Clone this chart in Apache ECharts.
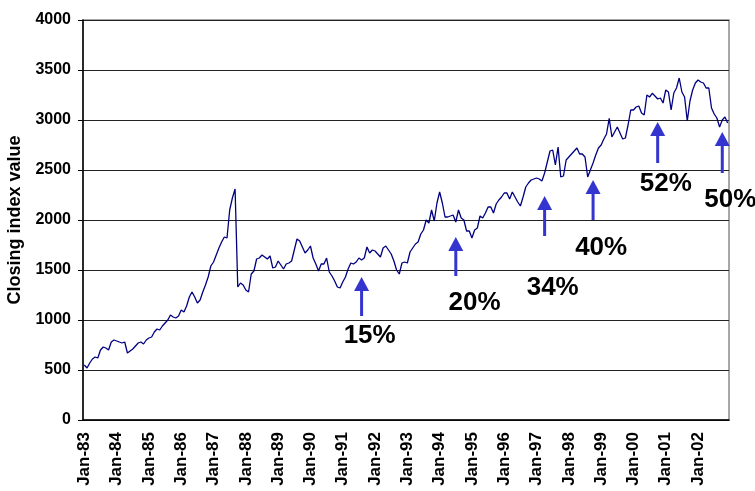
<!DOCTYPE html>
<html>
<head>
<meta charset="utf-8">
<script src="https://cdn.jsdelivr.net/npm/echarts@6/dist/echarts.min.js"></script>
<style>
  html, body { margin: 0; padding: 0; background: #fff; }
  #container { width: 755px; height: 491px; }
</style>
</head>
<body>
<div id="container"></div>
<script>
// monthly closing values, Jan-83 .. Dec-02
var close83to87 = [
  550, 520, 570, 610, 630, 620, 700, 730, 720, 700, 780, 800,
  790, 780, 770, 780, 670, 690, 710, 740, 770, 780, 760, 800,
  820, 830, 880, 910, 900, 940, 970, 1000, 1050, 1030, 1020, 1040,
  1100, 1080, 1140, 1230, 1280, 1230, 1170, 1200, 1280, 1350, 1430, 1540,
  1580, 1650, 1720, 1780, 1830, 1820, 2100, 2220, 2310, 1330, 1370, 1350
];
var close88to92 = [
  1300, 1280, 1460, 1490, 1610, 1620, 1650, 1630, 1610, 1640, 1520, 1530,
  1590, 1550, 1510, 1560, 1570, 1590, 1700, 1810, 1790, 1730, 1670, 1700,
  1740, 1620, 1560, 1490, 1560, 1560, 1620, 1480, 1440, 1390, 1330, 1320,
  1380, 1430, 1510, 1570, 1560, 1580, 1620, 1600, 1620, 1730, 1670, 1700,
  1690, 1660, 1630, 1720, 1740, 1700, 1660, 1590, 1500, 1460, 1570, 1580
];
var close93to97 = [
  1570, 1680, 1720, 1760, 1780, 1860, 1900, 2000, 1970, 2100, 1990, 2170,
  2280, 2170, 2030, 2030, 2040, 2050, 1980, 2100, 2020, 2000, 1890, 1890,
  1820, 1900, 1920, 2040, 2020, 2070, 2130, 2130, 2070, 2160, 2200, 2230,
  2270, 2270, 2210, 2280, 2230, 2180, 2140, 2230, 2330, 2370, 2400, 2410,
  2420, 2410, 2390, 2470, 2580, 2690, 2700, 2550, 2730, 2430, 2440, 2600
];
var close98to02 = [
  2630, 2660, 2690, 2720, 2660, 2660, 2630, 2430, 2500, 2570, 2650, 2720,
  2750, 2810, 2860, 3017, 2830, 2880, 2930, 2870, 2810, 2820, 2950, 3100,
  3100, 3130, 3140, 3070, 3050, 3250, 3230, 3267, 3240, 3210, 3220, 3170,
  3300, 3280, 3100, 3270, 3320, 3420, 3280, 3230, 2990, 3190, 3300, 3370,
  3400, 3380, 3370, 3320, 3320, 3120, 3060, 3020, 2930, 3000, 3030, 2970
];

var years = ['83','84','85','86','87','88','89','90','91','92',
             '93','94','95','96','97','98','99','00','01','02'];
var monthNames = ['Jan','Feb','Mar','Apr','May','Jun','Jul','Aug','Sep','Oct','Nov','Dec'];

// arrows: month index, shaft bottom value, arrow tip value
var arrowMonth = [103, 138, 171, 189, 213, 237];
var arrowLow   = [1040, 1440, 1840, 2000, 2570, 2470];
var arrowTip   = [1430, 1830, 2240, 2400, 2980, 2880];
var pctLabels  = ['15%', '20%', '34%', '40%', '52%', '50%'];
var labelMonth = [106, 144.5, 174, 192, 215.5, 239.6];
var labelValue = [840, 1170, 1320, 1720, 2360, 2200];

var categories = [];
years.forEach(function (yy) {
  monthNames.forEach(function (m) { categories.push(m + '-' + yy); });
});
var closes = close83to87.concat(close88to92, close93to97, close98to02);

var arrowData = arrowMonth.map(function (m, k) {
  return [m, arrowLow[k], arrowTip[k], labelMonth[k], labelValue[k]];
});

var arrowColor = '#3434CE';
var font = '"Liberation Sans", Arial, sans-serif';

var myChart = echarts.init(document.getElementById('container'));
var option = {
  animation: false,
  grid: {
    left: 83, right: 26, top: 20, bottom: 71,
    outerBoundsMode: 'none',
    containLabel: false,
    show: true, borderColor: '#8a8a8a', borderWidth: 1.5
  },
  xAxis: {
    type: 'category',
    data: categories,
    boundaryGap: true,
    axisLine: { lineStyle: { color: '#000', width: 1.5 } },
    axisTick: { interval: 11, inside: true, length: 4, lineStyle: { color: '#000' } },
    axisLabel: {
      interval: 11, rotate: 90, margin: 12,
      fontFamily: font, fontWeight: 'bold', fontSize: 17, color: '#000'
    },
    splitLine: { show: false }
  },
  yAxis: {
    type: 'value',
    min: 0, max: 4000, interval: 500,
    name: 'Closing index value',
    nameLocation: 'middle',
    nameGap: 57,
    nameTextStyle: { fontFamily: font, fontWeight: 'bold', fontSize: 18, color: '#000' },
    axisLine: { show: true, lineStyle: { color: '#000', width: 1.5 } },
    axisTick: { show: true, length: 5, lineStyle: { color: '#000' } },
    axisLabel: {
      margin: 12, fontFamily: font, fontWeight: 'bold', fontSize: 16, color: '#000',
      formatter: function (v) { return String(v); }
    },
    splitLine: { lineStyle: { color: '#222', width: 1 } }
  },
  series: [
    {
      type: 'line',
      data: closes,
      symbol: 'none',
      lineStyle: { color: '#000080', width: 1.3 }
    },
    {
      type: 'custom',
      data: arrowData,
      clip: false,
      z: 5,
      renderItem: function (params, api) {
        var m = api.value(0);
        var p0 = api.coord([m, api.value(1)]);
        var p1 = api.coord([m, api.value(2)]);
        var lp = api.coord([api.value(3), api.value(4)]);
        var head = 14, hw = 7.5;
        return {
          type: 'group',
          children: [
            { type: 'line',
              shape: { x1: p0[0], y1: p0[1], x2: p1[0], y2: p1[1] + head - 1 },
              style: { stroke: arrowColor, lineWidth: 3 } },
            { type: 'polygon',
              shape: { points: [[p1[0], p1[1]], [p1[0] - hw, p1[1] + head], [p1[0] + hw, p1[1] + head]] },
              style: { fill: arrowColor } },
            { type: 'text', x: lp[0], y: lp[1],
              style: { text: pctLabels[params.dataIndex], font: 'bold 26px ' + font,
                       fill: '#000', align: 'center', verticalAlign: 'middle' } }
          ]
        };
      }
    }
  ]
};
option && myChart.setOption(option);
</script>
</body>
</html>
